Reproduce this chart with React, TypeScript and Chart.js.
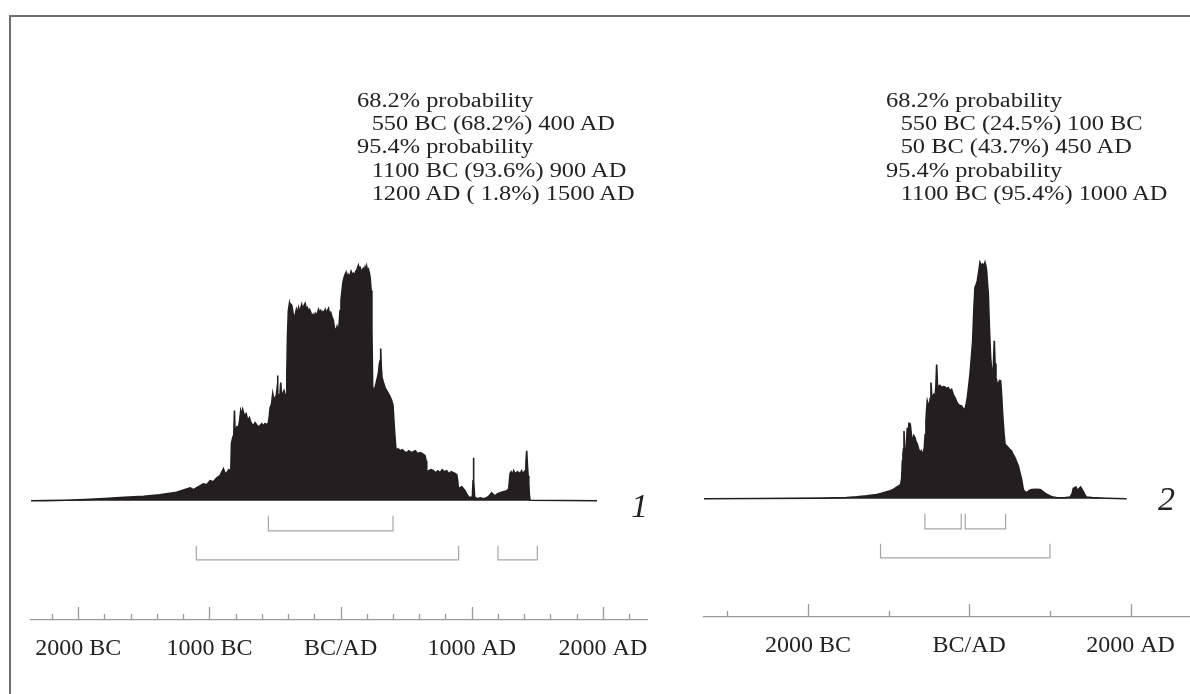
import React, { useEffect, useRef } from 'react';
import { Chart, registerables } from 'chart.js';

Chart.register(...registerables);

// ---------- Sample 1: calibrated age distribution (year, relative probability) ----------
const LEFT_YEARS = [
  -2360, -2250, -2100, -1950, -1800, -1650, -1500, -1380, -1250, -1147,
  -1120, -1097, -1070, -1046, -1020, -995, -970, -944, -920, -905,
  -893, -880, -868, -852, -842, -836, -832, -822, -814, -809,
  -804, -799, -790, -779, -770, -761, -753, -746, -733, -720,
  -707, -695, -686, -677, -665, -652, -640, -627, -614, -600,
  -588, -576, -563, -550, -543, -537, -527, -517, -508, -499,
  -490, -484, -481, -477, -471, -463, -456, -451, -446, -438,
  -431, -423, -415, -410, -405, -398, -390, -384, -378, -372,
  -363, -354, -345, -337, -329, -320, -312, -304, -296, -287,
  -278, -270, -262, -253, -245, -236, -227, -219, -210, -202,
  -193, -185, -177, -168, -160, -151, -142, -134, -126, -117,
  -108, -100, -92, -84, -75, -66, -55, -46, -37, -27,
  -17, -10, -4, 3, 9, 18, 27, 35, 42, 50,
  58, 65, 72, 80, 89, 98, 106, 115, 123, 130,
  136, 142, 148, 154, 160, 167, 174, 180, 187, 193,
  199, 206, 213, 220, 226, 233, 239, 245, 254, 263,
  272, 281, 289, 296, 302, 306, 310, 316, 327, 339,
  352, 365, 377, 390, 400, 408, 416, 423, 438, 454,
  470, 487, 504, 520, 538, 555, 570, 588, 606, 625,
  644, 652, 657, 672, 690, 708, 725, 742, 759, 775,
  792, 809, 826, 843, 860, 875, 886, 893, 898, 911,
  924, 937, 949, 965, 982, 1005, 1010, 1013, 1016, 1022,
  1028, 1045, 1064, 1090, 1114, 1133, 1152, 1165, 1178, 1197,
  1216, 1240, 1267, 1282, 1292, 1300, 1310, 1320, 1330, 1349,
  1368, 1380, 1390, 1400, 1407, 1413, 1419, 1425, 1430, 1435,
  1440, 1445, 1955,
];
const LEFT_PROB = [
  0, 0.2, 0.5, 1.2, 2.2, 3.5, 4.5, 6, 8.5, 13,
  11, 13, 15, 17, 16, 20, 19, 23, 25, 29,
  32, 27, 28, 31, 30, 34, 57, 63, 66, 90,
  68, 70, 74, 73, 80, 90, 86, 91, 85, 87,
  80, 83, 79, 77, 75, 78, 76, 74, 75, 77,
  75, 77, 76, 78, 85, 93, 96, 107, 100, 103,
  105, 112, 125, 108, 103, 105, 118, 106, 103, 108,
  110, 106, 103, 125, 163, 190, 197, 192, 196, 195,
  188, 183, 186, 191, 187, 193, 189, 192, 196, 191,
  195, 197, 192, 193, 189, 191, 188, 184, 186, 183,
  187, 185, 187, 191, 188, 190, 186, 189, 188, 191,
  187, 190, 192, 186, 188, 184, 180, 172, 170, 174,
  168, 178, 190, 200, 207, 218, 223, 226, 228, 222,
  226, 224, 225, 229, 226, 227, 224, 229, 230, 233,
  235, 231, 234, 230, 226, 231, 232, 228, 233, 230,
  234, 229, 231, 227, 222, 210, 170, 110, 112, 113,
  118, 123, 128, 137, 140, 152, 135, 123, 118, 113,
  110, 107, 104, 100, 95, 77, 62, 50, 52, 50,
  51, 49, 48, 50, 48, 49, 50, 47, 48, 47,
  45, 40, 28, 30, 31, 30, 28, 30, 28, 31,
  29, 30, 27, 29, 28, 27, 26, 20, 12, 13,
  14, 12, 10, 6, 3, 4, 20, 43, 20, 4,
  3, 2, 3, 2, 3, 5, 8, 6, 5, 7,
  8, 9, 10, 12, 27, 29, 26, 30, 27, 29,
  27, 30, 26, 29, 30, 38, 50, 35, 25, 17,
  5, 0.5, 0,
];

// ---------- Sample 2 ----------
const RIGHT_YEARS = [
  -3288, -2636, -1809, -1520, -1396, -1272, -1148, -1085, -1024, -980,
  -942, -910, -880, -851, -838, -830, -822, -815, -809, -800,
  -789, -778, -768, -757, -747, -737, -727, -715, -702, -688,
  -673, -660, -644, -628, -611, -595, -578, -567, -557, -547,
  -537, -528, -520, -507, -495, -485, -475, -465, -454, -440,
  -425, -414, -404, -395, -384, -363, -342, -322, -301, -281,
  -260, -240, -219, -198, -177, -157, -136, -115, -95, -74,
  -53, -38, -24, -8, 9, 25, 42, 57, 71, 85,
  100, 116, 133, 150, 166, 180, 195, 205, 215, 225,
  236, 250, 265, 278, 290, 300, 310, 320, 331, 345,
  360, 375, 389, 400, 414, 428, 443, 463, 484, 505,
  525, 545, 566, 587, 608, 628, 649, 660, 670, 690,
  711, 740, 773, 825, 876, 900, 918, 950, 980, 1010,
  1042, 1080, 1124, 1190, 1248, 1275, 1289, 1305, 1323, 1338,
  1351, 1365, 1380, 1400, 1422, 1440, 1455, 1520, 1579, 1700,
  1951,
];
const RIGHT_PROB = [
  0, 0.3, 0.7, 1.3, 2, 3, 4.3, 5.5, 7, 8,
  9.3, 11, 12.7, 14, 20, 37.7, 45, 50, 67.7, 48,
  37.7, 55, 71, 65, 76, 68, 71, 62, 57.7, 63,
  61, 57, 54.3, 50, 46, 48, 44.3, 47, 51, 64,
  77.7, 90, 97.7, 94, 91, 100, 116, 103, 101, 104,
  101, 112, 134, 115, 111, 113, 111, 112, 111.7, 110,
  111, 108, 109.3, 104, 101, 97, 94.3, 93, 92.7, 90,
  89.3, 95, 101, 112, 124.3, 140, 157.7, 190, 211, 214,
  217.7, 226, 236, 233, 234.3, 232, 236, 233, 227.7, 216,
  204.3, 170, 141, 128, 121, 135, 157.7, 135, 121, 116,
  114.3, 118, 117.7, 105, 84.3, 68, 54.3, 53, 51, 49,
  47.7, 44, 41, 37, 32.7, 26, 19.3, 14, 9.3, 7,
  6, 8, 9.3, 9.5, 9.3, 8, 7, 5, 3.7, 2.5,
  1.7, 1.2, 1, 1.2, 1.7, 5, 10.3, 11, 11.7, 9,
  9.3, 10.5, 11.7, 9, 6, 3, 1.7, 1.2, 1, 0.6,
  0,
];

// ---------- Probability ranges (from, to) ----------
const LEFT_RANGES_68 = [[-550, 400]];
const LEFT_RANGES_95 = [[-1100, 900], [1200, 1500]];
const RIGHT_RANGES_68 = [[-550, -100], [-50, 450]];
const RIGHT_RANGES_95 = [[-1100, 1000]];

// ---------- Axis ticks ----------
const LEFT_TICKS = [-2200, -2000, -1800, -1600, -1400, -1200, -1000, -800, -600, -400, -200, 0,
  200, 400, 600, 800, 1000, 1200, 1400, 1600, 1800, 2000, 2200];
const LEFT_MAJOR = [-2000, -1000, 0, 1000, 2000];
const LEFT_TICK_LABELS = ['2000 BC', '1000 BC', 'BC/AD', '1000 AD', '2000 AD'];
const RIGHT_TICKS = [-3000, -2000, -1000, 0, 1000, 2000];
const RIGHT_MAJOR = [-2000, 0, 2000];
const RIGHT_TICK_LABELS = ['2000 BC', 'BC/AD', '2000 AD'];

// ---------- Texts ----------
const LEFT_SUMMARY = [
  '68.2% probability',
  '550 BC (68.2%) 400 AD',
  '95.4% probability',
  '1100 BC (93.6%) 900 AD',
  '1200 AD ( 1.8%) 1500 AD',
];
const RIGHT_SUMMARY = [
  '68.2% probability',
  '550 BC (24.5%) 100 BC',
  '50 BC (43.7%) 450 AD',
  '95.4% probability',
  '1100 BC (95.4%) 1000 AD',
];
const LEFT_ID = '1';
const RIGHT_ID = '2';

// ---------- Styles ----------
const SERIF = '"Liberation Serif", "Times New Roman", Times, serif';
const INK = '#231f20';
const TEXT = '#222222';
const AXIS = '#9a9a9a';
const BRACKET = '#a6a6a6';
const B68 = { top: -15, bottom: -30 };
const B95 = { top: -45, bottom: -59 };

interface PanelSpec {
  years: number[];
  prob: number[];
  r68: number[][];
  r95: number[][];
  ticks: number[];
  major: number[];
  labels: string[];
  xMin: number;
  xMax: number;
  yMin: number;
  yMax: number;
  padding: { left: number; right: number; top: number; bottom: number };
  width: number;
}

function bracketPoints(ranges: number[][], top: number, bottom: number) {
  const pts: { x: number; y: number | null }[] = [];
  ranges.forEach(([a, b]) => {
    pts.push({ x: a, y: top }, { x: a, y: bottom }, { x: b, y: bottom }, { x: b, y: top }, { x: b, y: null });
  });
  return pts;
}

function makeTickPlugin(major: number[]) {
  return {
    id: 'tickMarks',
    afterDraw(chart: any) {
      const s = chart.scales.x;
      const ctx = chart.ctx;
      ctx.save();
      ctx.strokeStyle = AXIS;
      ctx.lineWidth = 1.3;
      for (const t of s.ticks) {
        const px = Math.round(s.getPixelForValue(t.value)) + 0.5;
        const len = major.includes(t.value) ? 13 : 6;
        ctx.beginPath();
        ctx.moveTo(px, s.top);
        ctx.lineTo(px, s.top - len);
        ctx.stroke();
      }
      ctx.restore();
    },
  };
}

function Panel({ spec, left }: { spec: PanelSpec; left: number }) {
  const ref = useRef<HTMLCanvasElement>(null);
  useEffect(() => {
    if (!ref.current) return;
    const hist = spec.years.map((x, i) => ({ x, y: spec.prob[i] }));
    const chart = new Chart(ref.current, {
      type: 'line',
      data: {
        datasets: [
          {
            data: hist,
            fill: 'origin',
            backgroundColor: INK,
            borderColor: INK,
            borderWidth: 1.6,
            pointRadius: 0,
            tension: 0,
          },
          {
            data: bracketPoints(spec.r68, B68.top, B68.bottom),
            borderColor: BRACKET,
            borderWidth: 1.2,
            pointRadius: 0,
            fill: false,
            spanGaps: false,
          },
          {
            data: bracketPoints(spec.r95, B95.top, B95.bottom),
            borderColor: BRACKET,
            borderWidth: 1.2,
            pointRadius: 0,
            fill: false,
            spanGaps: false,
          },
        ],
      } as any,
      options: {
        responsive: false,
        animation: false,
        events: [],
        layout: { padding: spec.padding },
        plugins: { legend: { display: false }, tooltip: { enabled: false }, title: { display: false } },
        scales: {
          x: {
            type: 'linear',
            min: spec.xMin,
            max: spec.xMax,
            afterBuildTicks: (scale: any) => {
              scale.ticks = spec.ticks.map((value) => ({ value }));
            },
            grid: { display: false, drawTicks: false },
            border: { display: true, color: AXIS, width: 1.3 },
            ticks: {
              autoSkip: false,
              maxRotation: 0,
              minRotation: 0,
              padding: 14,
              color: TEXT,
              font: { family: SERIF, size: 24 },
              callback: (value: any) => {
                const i = spec.major.indexOf(Number(value));
                return i >= 0 ? spec.labels[i] : '';
              },
            },
          },
          y: { display: false, min: spec.yMin, max: spec.yMax },
        },
      } as any,
      plugins: [makeTickPlugin(spec.major)],
    });
    return () => chart.destroy();
  }, [spec]);
  return (
    <canvas
      ref={ref}
      width={spec.width}
      height={694}
      style={{ position: 'absolute', left, top: 0, width: spec.width, height: 694 }}
    />
  );
}

const LEFT_SPEC: PanelSpec = {
  years: LEFT_YEARS,
  prob: LEFT_PROB,
  r68: LEFT_RANGES_68,
  r95: LEFT_RANGES_95,
  ticks: LEFT_TICKS,
  major: LEFT_MAJOR,
  labels: LEFT_TICK_LABELS,
  xMin: -2360,
  xMax: 2340,
  yMin: -119,
  yMax: 460,
  padding: { left: 31, right: 32.5, top: 40, bottom: 17.2 },
  width: 680,
};

const RIGHT_SPEC: PanelSpec = {
  years: RIGHT_YEARS,
  prob: RIGHT_PROB,
  r68: RIGHT_RANGES_68,
  r95: RIGHT_RANGES_95,
  ticks: RIGHT_TICKS,
  major: RIGHT_MAJOR,
  labels: RIGHT_TICK_LABELS,
  xMin: -3288,
  xMax: 2736,
  yMin: -118,
  yMax: 458,
  padding: { left: 24, right: 0, top: 40, bottom: 20.2 },
  width: 510,
};

function Summary({ lines, left }: { lines: string[]; left: number }) {
  return (
    <div
      style={{
        position: 'absolute',
        left,
        top: 88.5,
        transform: 'scaleX(1.22)',
        transformOrigin: '0 0',
        fontFamily: SERIF,
        fontSize: 20,
        lineHeight: '23.4px',
        color: TEXT,
        whiteSpace: 'pre',
      }}
    >
      {lines.map((t, i) => (
        <div key={i} style={{ paddingLeft: t.endsWith('probability') ? 0 : 12 }}>
          {t}
        </div>
      ))}
    </div>
  );
}

function SampleId({ text, left, top }: { text: string; left: number; top: number }) {
  return (
    <div
      style={{
        position: 'absolute',
        left,
        top,
        fontFamily: SERIF,
        fontStyle: 'italic',
        fontSize: 34,
        lineHeight: '34px',
        color: TEXT,
      }}
    >
      {text}
    </div>
  );
}

export default function App() {
  return (
    <div
      style={{
        position: 'absolute',
        left: 0,
        top: 0,
        width: 1190,
        height: 694,
        overflow: 'hidden',
        background: '#ffffff',
      }}
    >
      <div
        style={{
          position: 'absolute',
          left: 9,
          top: 15,
          width: 1200,
          height: 700,
          borderLeft: '2px solid #707070',
          borderTop: '2px solid #707070',
        }}
      />
      <Panel spec={LEFT_SPEC} left={0} />
      <Panel spec={RIGHT_SPEC} left={680} />
      <Summary lines={LEFT_SUMMARY} left={357} />
      <Summary lines={RIGHT_SUMMARY} left={886} />
      <SampleId text={LEFT_ID} left={631} top={488.5} />
      <SampleId text={RIGHT_ID} left={1158} top={481.5} />
    </div>
  );
}
